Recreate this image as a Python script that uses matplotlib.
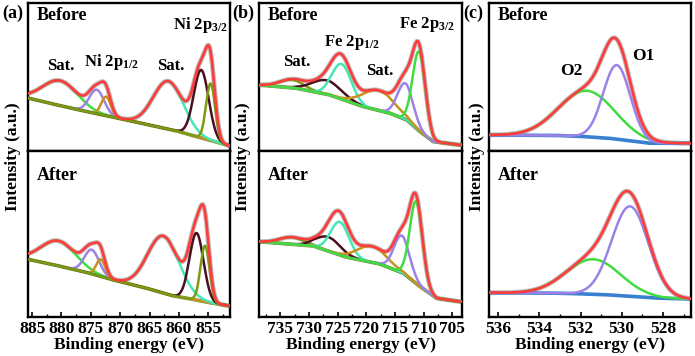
import numpy as np
import matplotlib
matplotlib.use("Agg")
import matplotlib.pyplot as plt
from matplotlib.ticker import MultipleLocator

plt.rcParams['font.family'] = ['Liberation Serif', 'DejaVu Serif']
plt.rcParams['font.weight'] = 'bold'
plt.rcParams['mathtext.fontset'] = 'custom'
plt.rcParams['mathtext.rm'] = 'Liberation Serif:bold'
plt.rcParams['mathtext.it'] = 'Liberation Serif:bold'
plt.rcParams['mathtext.bf'] = 'Liberation Serif:bold'

RED = '#ff3b3b'
GREEN = '#3fdc3f'
AQUA = '#45e8b4'
LAV = '#9c82e6'
GOLD = '#c8901c'
MAROON = '#4a0f20'
OLIVE = '#7d9a14'
BLUE = '#3a80d0'
GRAY = '#bdbdbd'

# ---------------- data (a.u. values) ----------------
# Panel (a) Ni 2p
a_xlim = (885.7, 851.3)
a_before_bg_E = [885.7, 880.0, 875.0, 870.5, 865.0, 860.0, 856.5, 853.0, 851.3]
a_before_bg_I = [53, 45, 38.5, 33, 26, 19.5, 13.5, 8, 5]
a_before_centers = [880.2, 874.0, 872.4, 861.8, 856.2, 854.6]
a_before_heights = [25, 24, 19, 48, 68, 57]
a_before_fwhm = [7.0, 3.0, 1.9, 6.0, 3.0, 1.8]

a_after_bg_E = [885.7, 880.0, 875.0, 870.5, 865.0, 860.9, 857.6, 854.0, 851.3]
a_after_bg_I = [57.7, 50.5, 43.5, 36, 28, 21, 17.7, 13.5, 11]
a_after_centers = [880.5, 874.85, 873.3, 862.65, 857.0, 855.55]
a_after_heights = [25, 24, 17, 57, 67, 56]
a_after_fwhm = [7.0, 3.0, 1.8, 6.3, 2.8, 1.8]
a_colors = [GREEN, LAV, GOLD, AQUA, MAROON, OLIVE]

# Panel (b) Fe 2p
b_xlim = (738.7, 703.3)
b_before_bg_E = [738.7, 732.1, 726.3, 720.5, 715.8, 712.9, 710.6, 708.3, 703.6]
b_before_bg_I = [66, 62.7, 56, 44.3, 37.7, 31, 19.3, 9.3, 6]
b_before_centers = [733.0, 726.9, 724.3, 717.9, 713.2, 710.8]
b_before_heights = [8, 14, 35, 20, 36, 79]
b_before_fwhm = [5.0, 6.0, 4.0, 6.5, 3.2, 2.6]

b_after_bg_E = [738.7, 729.2, 723.4, 717.6, 713.5, 710.6, 707.7, 703.6]
b_after_bg_I = [75.3, 71, 59.7, 53, 43.7, 30.3, 18.7, 15.3]
b_after_centers = [733.0, 726.6, 724.6, 719.0, 713.8, 711.3]
b_after_heights = [7, 14, 33, 16, 37, 82]
b_after_fwhm = [5.0, 5.0, 3.8, 6.0, 3.2, 2.6]
b_colors = [OLIVE, MAROON, AQUA, GOLD, LAV, GREEN]

# Panel (c) O 1s
c_xlim = (536.44, 526.64)
c_before_bg_E = [536.44, 533.0, 531.7, 530.5, 529.5, 528.6, 526.64]
c_before_bg_I = [16, 15.5, 14.3, 12.5, 10, 7.7, 7.7]
c_before_centers = [531.7, 530.24]
c_before_heights = [46, 74]
c_before_fwhm = [3.2, 1.55]

c_after_bg_E = [536.44, 533.0, 531.7, 530.5, 529.5, 528.1, 526.64]
c_after_bg_I = [24.3, 23.8, 23, 22, 20.5, 18.7, 18]
c_after_centers = [531.38, 529.6]
c_after_heights = [35, 90]
c_after_fwhm = [3.1, 2.1]
c_colors = [GREEN, LAV]

# ---------------- layout helpers ----------------
W, H = 695, 356
fig = plt.figure(figsize=(W / 100, H / 100), dpi=100)


def box(x0, x1, y0, y1):
    return [x0 / W, 1 - y1 / H, (x1 - x0) / W, (y1 - y0) / H]


def gauss(E, c, h, fw):
    s = fw / 2.3548
    return h * np.exp(-0.5 * ((E - c) / s) ** 2)


def draw(ax, xlim, bgE, bgI, centers, heights, fwhm, colors, bgcolor, ylim,
         bottom):
    E = np.linspace(xlim[1], xlim[0], 600)
    bg = np.interp(E, bgE[::-1], bgI[::-1])
    comps = [gauss(E, c, h, f) for c, h, f in zip(centers, heights, fwhm)]
    env = bg + np.sum(comps, axis=0)
    ax.plot(E, env, color=GRAY, lw=3.4, zorder=1)
    ax.plot(E, bg, color=bgcolor, lw=2.6, zorder=2)
    for comp, col in zip(comps, colors):
        ax.plot(E, bg + comp, color=col, lw=1.8, zorder=3)
    ax.plot(E, env, color=RED, lw=1.9, zorder=4)
    ax.set_xlim(*xlim)
    ax.set_ylim(*ylim)
    ax.set_yticks([])
    for sp in ax.spines.values():
        sp.set_linewidth(1.7)
    if bottom:
        ax.tick_params(axis='x', direction='in', length=3.5, width=1.2,
                       which='major', labelsize=12.5, pad=3)
        ax.tick_params(axis='x', direction='in', length=2, width=1.0,
                       which='minor')
    else:
        ax.set_xticks([])
        ax.tick_params(axis='x', which='minor', bottom=False)


panels = [
    dict(x0=28, x1=230, xlim=a_xlim, minor=2.5, colors=a_colors, bgcol=OLIVE,
         before=(a_before_bg_E, a_before_bg_I, a_before_centers, a_before_heights, a_before_fwhm),
         after=(a_after_bg_E, a_after_bg_I, a_after_centers, a_after_heights, a_after_fwhm),
         ticks=[885, 880, 875, 870, 865, 860, 855]),
    dict(x0=259, x1=462, xlim=b_xlim, minor=2.5, colors=b_colors, bgcol=OLIVE,
         before=(b_before_bg_E, b_before_bg_I, b_before_centers, b_before_heights, b_before_fwhm),
         after=(b_after_bg_E, b_after_bg_I, b_after_centers, b_after_heights, b_after_fwhm),
         ticks=[735, 730, 725, 720, 715, 710, 705]),
    dict(x0=489, x1=691, xlim=c_xlim, minor=1, colors=c_colors, bgcol=BLUE,
         before=(c_before_bg_E, c_before_bg_I, c_before_centers, c_before_heights, c_before_fwhm),
         after=(c_after_bg_E, c_after_bg_I, c_after_centers, c_after_heights, c_after_fwhm),
         ticks=[536, 534, 532, 530, 528]),
]

for p in panels:
    axt = fig.add_axes(box(p['x0'], p['x1'], 3, 151))
    axb = fig.add_axes(box(p['x0'], p['x1'], 151, 317))
    draw(axt, p['xlim'], *p['before'], p['colors'], p['bgcol'], (0, 148), False)
    draw(axb, p['xlim'], *p['after'], p['colors'], p['bgcol'], (0, 166), True)
    axb.set_xticks(p['ticks'])
    axb.xaxis.set_minor_locator(MultipleLocator(p['minor']))
    axb.set_xlim(*p['xlim'])
    axb.set_xticklabels([str(t) for t in p['ticks']], fontweight='bold', fontsize=12.5)
    axb.set_xlabel('Binding energy (eV)', fontsize=12.5, fontweight='bold', labelpad=0)
    axt.text(9 / (p['x1'] - p['x0']), 1 - 13 / 148, 'Before', transform=axt.transAxes,
             fontsize=13, fontweight='bold', va='center', ha='left')
    axb.text(9 / (p['x1'] - p['x0']), 1 - 24 / 166, 'After', transform=axb.transAxes,
             fontsize=13, fontweight='bold', va='center', ha='left')


def ftext(x, y, s, **kw):
    fig.text(x / W, 1 - y / H, s, ha='center', va='center', fontweight='bold', **kw)


# panel letters
for x, s in [(13, '(a)'), (243, '(b)'), (473, '(c)')]:
    ftext(x, 13, s, fontsize=13)
# y labels
for x in [13, 243, 477]:
    ftext(x, 157, 'Intensity (a.u.)', fontsize=12.5, rotation=90)

# peak labels
ftext(61, 66, 'Sat.', fontsize=12)
ftext(111, 62, r'Ni 2p$_{\mathrm{1/2}}$', fontsize=12)
ftext(171, 66, 'Sat.', fontsize=12)
ftext(200, 25, r'Ni 2p$_{\mathrm{3/2}}$', fontsize=12)
ftext(297, 62, 'Sat.', fontsize=12)
ftext(352, 42, r'Fe 2p$_{\mathrm{1/2}}$', fontsize=12)
ftext(380, 71, 'Sat.', fontsize=12)
ftext(427, 25, r'Fe 2p$_{\mathrm{3/2}}$', fontsize=12)
ftext(571, 71, 'O2', fontsize=12.5)
ftext(643, 56, 'O1', fontsize=12.5)

fig.savefig('out.png', dpi=100)
